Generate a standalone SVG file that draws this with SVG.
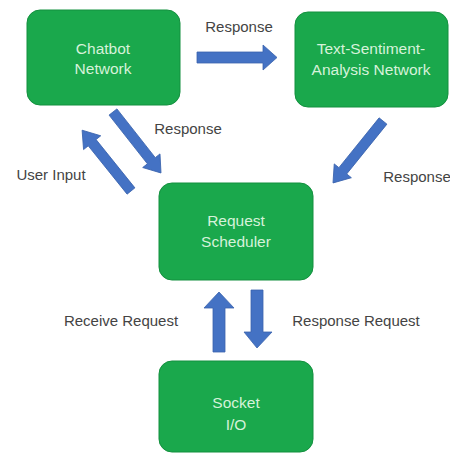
<svg xmlns="http://www.w3.org/2000/svg" width="450" height="453" viewBox="0 0 450 453">
<style>
.box{fill:#1aa84c;stroke:#13903e;stroke-width:1}
.bt{font-family:"Liberation Sans",Arial,sans-serif;font-size:15.5px;fill:#d6f2da;text-anchor:middle}
.lbl{font-family:"Liberation Sans",Arial,sans-serif;font-size:15px;fill:#444;text-anchor:middle}
.arr{fill:#4472c4;stroke:#3a63ad;stroke-width:0.8}
</style>
<rect width="450" height="453" fill="#ffffff"/>
<g id="chatbot">
<rect class="box" x="27" y="10" width="153" height="95" rx="13"/>
<text class="bt" x="103" y="54">Chatbot</text>
<text class="bt" x="103" y="74">Network</text>
</g>
<g id="sentiment">
<rect class="box" x="295" y="12" width="153" height="95" rx="13"/>
<text class="bt" x="371" y="54">Text-Sentiment-</text>
<text class="bt" x="371" y="75">Analysis Network</text>
</g>
<g id="scheduler">
<rect class="box" x="159" y="183" width="154" height="97" rx="13"/>
<text class="bt" x="236" y="226">Request</text>
<text class="bt" x="236" y="247">Scheduler</text>
</g>
<g id="socket">
<rect class="box" x="159" y="361" width="154" height="91" rx="13"/>
<text class="bt" x="236" y="408">Socket</text>
<text class="bt" x="236" y="430">I/O</text>
</g>
<g id="connectors">
<polygon class="arr" points="197,52 263,52 263,45 277,57.5 263,70 263,63 197,63"/>
<polygon class="arr" transform="translate(113,112) rotate(51.8)" points="0,-5 62,-5 62,-11 77.6,0 62,11 62,5 0,5"/>
<polygon class="arr" transform="translate(131,191) rotate(231.2)" points="0,-5 62,-5 62,-11 78,0 62,11 62,5 0,5"/>
<polygon class="arr" transform="translate(383,121) rotate(128.9)" points="0,-5 64,-5 64,-11 79.6,0 64,11 64,5 0,5"/>
<polygon class="arr" points="213,352 213,308 204,308 219,292 234,308 225,308 225,352"/>
<polygon class="arr" points="251,290 251,332 244,332 257,348 272,332 263,332 263,290"/>
<text class="lbl" x="239" y="32">Response</text>
<text class="lbl" x="188" y="134">Response</text>
<text class="lbl" x="51" y="180">User Input</text>
<text class="lbl" x="417" y="182">Response</text>
<text class="lbl" x="121" y="326">Receive Request</text>
<text class="lbl" x="356" y="326">Response Request</text>
</g>
</svg>
